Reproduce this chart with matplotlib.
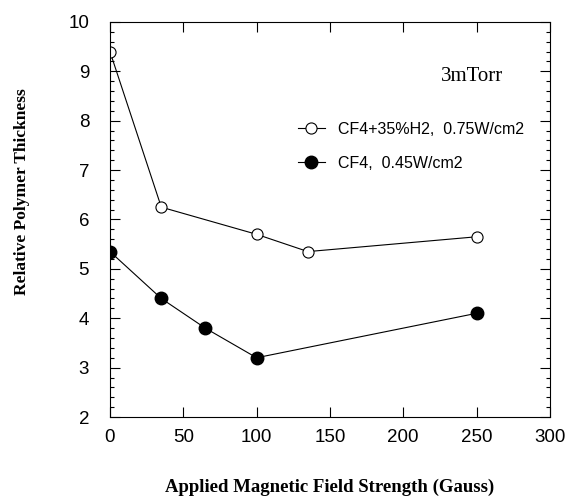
import matplotlib.pyplot as plt
from matplotlib.ticker import MultipleLocator

# data
field_open = [0, 35, 100, 135, 250]
thick_open = [9.4, 6.25, 5.7, 5.35, 5.65]
field_fill = [0, 35, 65, 100, 250]
thick_fill = [5.35, 4.4, 3.8, 3.2, 4.1]

label_open = "CF4+35%H2,  0.75W/cm2"
label_fill = "CF4,  0.45W/cm2"

fig = plt.figure(figsize=(5.69, 5.0), dpi=100)
ax = fig.add_axes([0.1933, 0.166, 0.773, 0.79])

ax.plot(field_open, thick_open, color='black', linewidth=0.8, marker='o',
        markersize=8, markerfacecolor='white', markeredgecolor='black',
        markeredgewidth=0.8, label=label_open)
ax.plot(field_fill, thick_fill, color='black', linewidth=0.8, marker='o',
        markersize=9, markerfacecolor='black', markeredgecolor='black',
        label=label_fill)

ax.set_xlim(0, 300)
ax.set_ylim(2, 10)
ax.xaxis.set_major_locator(MultipleLocator(50))
ax.yaxis.set_major_locator(MultipleLocator(1))
ax.yaxis.set_minor_locator(MultipleLocator(0.2))
ax.tick_params(which='both', direction='in', top=True, right=True,
               labelsize=13.5, width=0.8)
ax.tick_params(which='major', length=7)
ax.tick_params(which='minor', length=3)
ax.tick_params(axis='x', which='major', pad=9)
ax.tick_params(axis='y', which='major', pad=15)
for lab in ax.get_xticklabels() + ax.get_yticklabels():
    lab.set_family('Liberation Sans')
for s in ax.spines.values():
    s.set_linewidth(0.8)

ax.set_xlabel("Applied Magnetic Field Strength (Gauss)", family='Liberation Serif',
              fontweight='bold', fontsize=13.5, labelpad=23)
ax.set_ylabel("Relative Polymer Thickness", family='Liberation Serif',
              fontweight='bold', fontsize=12.5)
ax.yaxis.set_label_coords(-0.182, 0.57)

ax.text(0.895, 0.863, "3mTorr", transform=ax.transAxes, family='Liberation Serif',
        fontsize=15, ha='right', va='center')

ax.legend(loc='upper left', bbox_to_anchor=(0.394, 0.783), frameon=False,
          prop={'family': 'Liberation Sans', 'size': 11.5}, handlelength=1.7,
          handletextpad=0.8, labelspacing=1.18)

plt.savefig("out.png", dpi=100)
